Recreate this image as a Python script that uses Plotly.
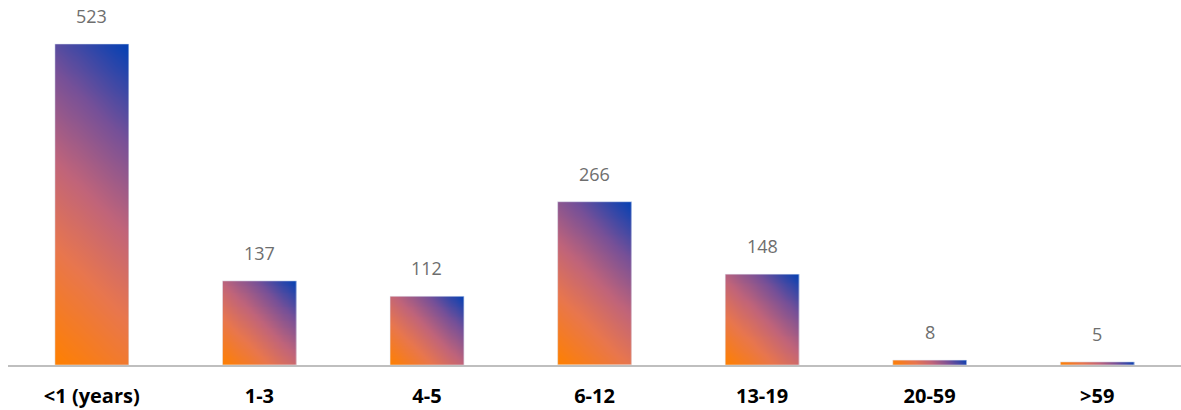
import numpy as np
import plotly.graph_objects as go

# Age groups and counts
categories = ["<1 (years)", "1-3", "4-5", "6-12", "13-19", "20-59", ">59"]
counts = [523, 137, 112, 266, 148, 8, 5]

# Figure geometry
W, H = 1181, 410
M_L, M_R, M_T, M_B = 8, 0, 9, 45
Y_MAX = 580
BAR_W = 0.44
FONT = "Open Sans, Lato, sans-serif"

plot_w = W - M_L - M_R
plot_h = H - M_T - M_B
px_per_x = plot_w / len(categories)
px_per_y = plot_h / Y_MAX

# Diagonal gradient: orange (bottom-left) to blue (top-right)
grad_scale = [
    [0.0, "rgb(255,128,0)"],
    [0.30, "rgb(232,118,78)"],
    [0.52, "rgb(192,100,122)"],
    [0.75, "rgb(118,80,152)"],
    [1.0, "rgb(2,64,180)"],
]

fig = go.Figure()

NX, NY = 24, 48
for i, v in enumerate(counts):
    x_edges = np.linspace(i - BAR_W / 2, i + BAR_W / 2, NX + 1)
    y_edges = np.linspace(0, v, NY + 1)
    xc = (x_edges[:-1] + x_edges[1:]) / 2
    yc = (y_edges[:-1] + y_edges[1:]) / 2
    w_px = BAR_W * px_per_x
    h_px = v * px_per_y
    dx = (xc - (i - BAR_W / 2)) * px_per_x
    dy = yc * px_per_y
    z = (dx[None, :] + dy[:, None]) / (w_px + h_px)
    fig.add_trace(go.Heatmap(
        x=x_edges, y=y_edges, z=z,
        colorscale=grad_scale, zmin=0, zmax=1,
        zsmooth="best", showscale=False, hoverinfo="skip",
    ))

# Invisible bars carrying the values for hover
fig.add_trace(go.Bar(
    x=list(range(len(categories))), y=counts, width=BAR_W,
    marker=dict(color="rgba(0,0,0,0)"), hovertemplate="%{y}<extra></extra>",
))

# Value labels
for i, v in enumerate(counts):
    fig.add_annotation(
        x=i, y=v, text=str(v), showarrow=False,
        yanchor="bottom", yshift=14,
        font=dict(family=FONT, size=18, color="#6E6E6E"),
    )

fig.update_layout(
    width=W, height=H,
    margin=dict(l=M_L, r=M_R, t=M_T, b=M_B),
    plot_bgcolor="white", paper_bgcolor="white",
    showlegend=False,
    xaxis=dict(
        range=[-0.5, len(categories) - 0.5],
        tickmode="array", tickvals=list(range(len(categories))),
        ticktext=categories,
        showgrid=False, zeroline=False,
        showline=True, linecolor="#BFBFBF", linewidth=1.5,
        ticks="", ticklabelstandoff=12,
        tickfont=dict(family=FONT, size=20, color="#000000", weight="bold"),
    ),
    yaxis=dict(
        range=[0, Y_MAX], visible=False, showgrid=False, zeroline=False,
    ),
)

fig.write_html("out.html")
